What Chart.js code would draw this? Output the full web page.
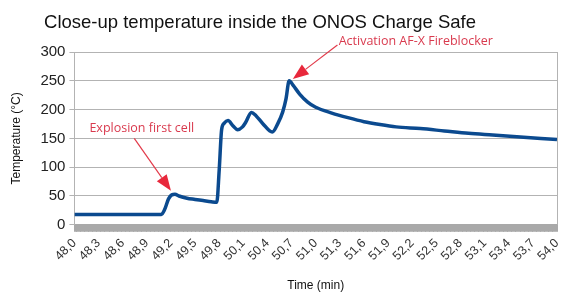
<!DOCTYPE html>
<html>
<head>
<meta charset="utf-8">
<script src="https://cdn.jsdelivr.net/npm/chart.js@4"></script>
<style>
  html, body { margin: 0; padding: 0; background: #fff; }
  #wrap { width: 563px; height: 300px; }
</style>
</head>
<body>
<div id="wrap"><canvas id="chart"></canvas></div>
<script>
// time in minutes, temperature in °C
var times = [48.0, 49.08, 49.12, 49.17, 49.21, 49.25, 49.3, 49.4, 49.5, 49.6, 49.7, 49.77, 49.80, 49.83, 49.86, 49.91, 49.97, 50.03, 50.09, 50.13, 50.2, 50.26, 50.34, 50.46, 50.53, 50.59, 50.63, 50.67, 50.72, 50.8, 50.9, 51.0, 51.2, 51.4, 51.6, 51.8, 52.0, 52.3, 52.6, 52.9, 53.2, 53.5, 53.8, 54.0];
var temps = [18, 18, 26, 45, 52, 53, 50, 46, 44, 42, 40, 39, 95, 165, 176, 181, 172, 165, 170, 178, 195, 189, 176, 161, 176, 196, 218, 250, 242, 227, 213, 204, 194, 186, 179, 174, 170, 167, 163, 159, 156, 153, 150, 148];

// x tick labels every 0.3 min
var xLabelStep = 0.3;
var xMin = 48.0, xMax = 54.0;

var title = 'Close-up temperature inside the ONOS Charge Safe';

var notes = [
  { text: 'Explosion first cell', tx: 48.186, ty: 167, fromX: 48.744, fromY: 150, toX: 49.20, toY: 59 },
  { text: 'Activation AF-X Fireblocker', tx: 51.285, ty: 319, fromX: 51.27, fromY: 312, toX: 50.715, toY: 253 }
];

var points = times.map(function (t, i) { return { x: t, y: temps[i] }; });

// title, red call-outs and the frame round the plot
var notesPlugin = {
  id: 'notes',
  afterDatasetsDraw: function (chart) {
    var ctx = chart.ctx, xs = chart.scales.x, ys = chart.scales.y, a = chart.chartArea;
    ctx.save();
    ctx.strokeStyle = '#b3b3b3';
    ctx.lineWidth = 1;
    ctx.beginPath();
    ctx.moveTo(Math.round(a.right) + 0.5, a.top);
    ctx.lineTo(Math.round(a.right) + 0.5, a.bottom);
    ctx.stroke();

    ctx.fillStyle = '#111';
    ctx.font = '18.5px "Liberation Sans", sans-serif';
    ctx.textAlign = 'center';
    ctx.textBaseline = 'middle';
    ctx.fillText(title, 260, 23);
    ctx.textAlign = 'left';

    notes.forEach(function (n) {
      var x0 = xs.getPixelForValue(n.fromX), y0 = ys.getPixelForValue(n.fromY);
      var x1 = xs.getPixelForValue(n.toX), y1 = ys.getPixelForValue(n.toY);
      var ang = Math.atan2(y1 - y0, x1 - x0);
      var hl = 16, hw = 6;
      var bx = x1 - hl * Math.cos(ang), by = y1 - hl * Math.sin(ang);
      ctx.strokeStyle = '#e23a4a';
      ctx.fillStyle = '#e8283c';
      ctx.lineWidth = 1.2;
      ctx.beginPath();
      ctx.moveTo(x0, y0);
      ctx.lineTo(bx, by);
      ctx.stroke();
      ctx.beginPath();
      ctx.moveTo(x1, y1);
      ctx.lineTo(bx + hw * Math.sin(ang), by - hw * Math.cos(ang));
      ctx.lineTo(bx - hw * Math.sin(ang), by + hw * Math.cos(ang));
      ctx.closePath();
      ctx.fill();
      ctx.fillStyle = '#d93a4e';
      ctx.font = '12.5px "Open Sans", sans-serif';
      ctx.textBaseline = 'middle';
      ctx.fillText(n.text, xs.getPixelForValue(n.tx), ys.getPixelForValue(n.ty));
    });
    ctx.restore();
  }
};

new Chart(document.getElementById('chart'), {
  type: 'line',
  data: {
    datasets: [{
      data: points,
      borderColor: '#0b4a8f',
      borderWidth: 3.5,
      pointRadius: 0,
      cubicInterpolationMode: 'monotone',
      fill: false
    }]
  },
  options: {
    responsive: true,
    maintainAspectRatio: false,
    animation: false,
    layout: { padding: { left: 9, right: 6, top: 52, bottom: 7 } },
    plugins: {
      legend: { display: false },
      tooltip: { enabled: false },
      title: { display: false }
    },
    scales: {
      x: {
        type: 'linear',
        min: xMin,
        max: xMax,
        afterBuildTicks: function (scale) {
          var ticks = [];
          for (var i = Math.round(xMin * 100); i <= Math.round(xMax * 100); i++) {
            ticks.push({ value: i / 100 });
          }
          scale.ticks = ticks;
        },
        // rotated labels only reach left, no need for room on the right
        afterFit: function (scale) {
          scale.paddingRight = 0;
        },
        ticks: {
          autoSkip: false,
          maxRotation: 45,
          minRotation: 45,
          color: '#333',
          font: { family: 'Liberation Sans', size: 12.5 },
          padding: 4,
          callback: function (v) {
            var k = Math.round(v * 100);
            if (k % Math.round(xLabelStep * 100) !== 0) return '';
            return (k / 100).toFixed(1).replace('.', ',');
          }
        },
        grid: { drawOnChartArea: false, color: '#a9a9a9', tickLength: 7 },
        border: { color: '#a9a9a9' },
        title: {
          display: true,
          text: 'Time (min)',
          color: '#111',
          font: { family: 'Liberation Sans', size: 12 },
          padding: { top: 11, bottom: 0 }
        }
      },
      y: {
        min: 0,
        max: 300,
        ticks: {
          stepSize: 50,
          color: '#222',
          font: { family: 'Liberation Sans', size: 15 },
          padding: 4
        },
        grid: { color: '#b3b3b3', tickLength: 5 },
        border: { color: '#b3b3b3' },
        title: {
          display: true,
          text: 'Temperature (°C)',
          color: '#111',
          font: { family: 'Liberation Sans', size: 12 },
          padding: { top: 0, bottom: 13 }
        }
      }
    }
  },
  plugins: [notesPlugin]
});
</script>
</body>
</html>
